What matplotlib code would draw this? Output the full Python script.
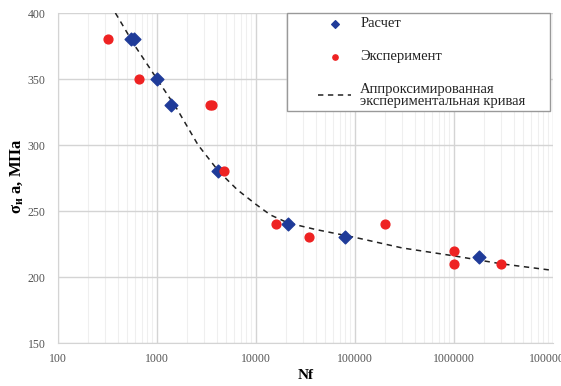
import matplotlib
matplotlib.use("Agg")
import matplotlib.pyplot as plt
from matplotlib.patches import Rectangle
import numpy as np

plt.rcParams['font.family'] = ['Liberation Serif', 'DejaVu Serif']
plt.rcParams['mathtext.fontset'] = 'custom'
plt.rcParams['mathtext.rm'] = 'Liberation Serif'
plt.rcParams['mathtext.it'] = 'Liberation Serif:italic'
plt.rcParams['mathtext.bf'] = 'Liberation Serif:bold'

# Calculated (Расчет)
calc_N = [540, 580, 1000, 1400, 4100, 21000, 80000, 1.8e6]
calc_S = [380, 380, 350, 330, 280, 240, 230, 215]

# Experiment (Эксперимент)
exp_N = [320, 660, 3400, 3600, 4700, 16000, 34000, 200000, 1e6, 1e6, 3e6]
exp_S = [380, 350, 330, 330, 280, 240, 230, 240, 220, 210, 210]

# Approximated experimental curve
fit_N = [380, 600, 1000, 1600, 2600, 4200, 6500, 10000, 14000, 21000, 40000, 100000, 300000, 1e6, 3e6, 1e7]
fit_S = [400, 375, 350, 327, 300, 280, 266, 255, 247, 241, 236, 230, 222, 216, 210, 205]

xticks = [100, 1000, 10000, 100000, 1000000, 10000000]
xticklabels = ['100', '1000', '10000', '100000', '1000000', '10000000']
yticks = [150, 200, 250, 300, 350, 400]

fig = plt.figure(figsize=(5.61, 3.86), dpi=100)
ax = fig.add_axes([58/561, 1-343/386, (553-58)/561, (343-13)/386])

ax.plot(fit_N, fit_S, linestyle=(0, (3.5, 3)), color='#222222', lw=1.1, zorder=2,
        label='Аппроксимированная\nэкспериментальная кривая')
ax.scatter(calc_N, calc_S, marker='D', s=42, color='#1f3b99', zorder=3, label='Расчет')
ax.scatter(exp_N, exp_S, marker='o', s=40, color='#ee2222', zorder=3, label='Эксперимент')

ax.set_xscale('log')
ax.set_xlim(100, 1e7)
ax.set_ylim(150, 400)
ax.set_xticks(xticks)
ax.set_xticklabels(xticklabels)
ax.set_yticks(yticks)
ax.xaxis.set_minor_locator(matplotlib.ticker.LogLocator(base=10, subs=np.arange(2, 10)))
ax.xaxis.set_minor_formatter(matplotlib.ticker.NullFormatter())

ax.grid(True, which='major', color='#d4d4d4', lw=1.0)
ax.grid(True, which='minor', axis='x', color='#efefef', lw=0.8)
ax.set_axisbelow(True)
for s in ['top', 'right']:
    ax.spines[s].set_visible(False)
for s in ['left', 'bottom']:
    ax.spines[s].set_color('#d4d4d4')
ax.tick_params(which='both', length=0, labelsize=8.5, colors='#555555')
ax.tick_params(axis='x', pad=7)
ax.tick_params(axis='y', pad=9)

ax.set_xlabel('Nf', fontsize=11, fontweight='bold', va='center')
ax.xaxis.set_label_coords(0.5, -0.097)
ax.set_ylabel(r'σ$_{\mathbf{и}}$ а, МПа', fontsize=12, fontweight='bold', va='center')
ax.yaxis.set_label_coords(-0.083, 0.505)

# legend frame
ax.add_patch(Rectangle((0.4626, 0.703), 0.531, 0.297, transform=ax.transAxes,
                       facecolor='white', edgecolor='#999999', lw=1.0,
                       zorder=4, clip_on=False))

handles, labels = ax.get_legend_handles_labels()
order = [1, 2, 0]
leg = ax.legend([handles[i] for i in order], [labels[i] for i in order],
                loc='upper left', bbox_to_anchor=(0.525, 0.987),
                fontsize=10.5, frameon=False,
                labelspacing=1.35, handlelength=2.3, handletextpad=0.6,
                borderpad=0.0, borderaxespad=0, scatterpoints=1, markerscale=0.6)
for t in leg.get_texts():
    t.set_linespacing(0.85)
    t.set_color('#222222')
leg.set_zorder(5)

fig.savefig('out.png', dpi=100)
